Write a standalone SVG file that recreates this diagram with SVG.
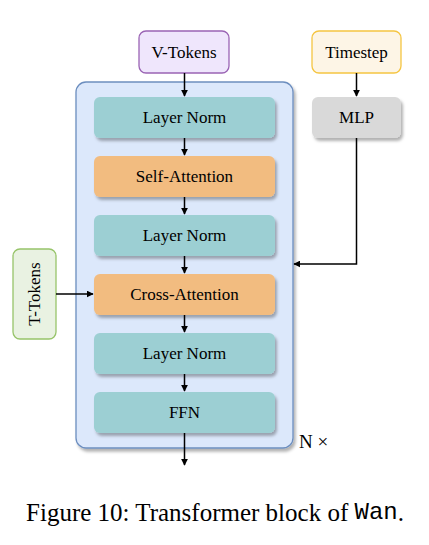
<svg xmlns="http://www.w3.org/2000/svg" width="429" height="545" viewBox="0 0 429 545">
<defs>
<style>
text{font-family:"Liberation Serif","Times New Roman",serif;fill:#000;}
.lbl{font-size:17px;text-anchor:middle;dominant-baseline:central;}
.teal{fill:#9ccfd3;}
.orange{fill:#f2bc80;}
.edge{stroke:#000;stroke-width:1.5;fill:none;}
</style>
<filter id="sh" x="-10%" y="-20%" width="130%" height="150%">
<feDropShadow dx="2" dy="3" stdDeviation="1.5" flood-color="#000" flood-opacity="0.3"/>
</filter>
<marker id="ah" viewBox="0 0 10 10" refX="9" refY="5" markerWidth="7" markerHeight="7" orient="auto" markerUnits="userSpaceOnUse">
<path d="M0,0 L10,5 L0,10 z" fill="#000"/>
</marker>
</defs>
<rect width="429" height="545" fill="#fff"/>
<g id="container">
<rect x="76" y="82" width="217" height="366" rx="10" fill="#dce8fb" stroke="#6c8ebf" stroke-width="1.3" filter="url(#sh)"/>
</g>
<g id="v-tokens">
<rect x="139" y="31" width="90" height="42" rx="7" fill="#efe6fc" stroke="#9a64b4" stroke-width="1.3"/>
<text class="lbl" x="184" y="52">V-Tokens</text>
</g>
<g id="timestep">
<rect x="312" y="31" width="89" height="42" rx="7" fill="#fdf5e6" stroke="#f5c542" stroke-width="1.3"/>
<text class="lbl" x="356.5" y="52">Timestep</text>
</g>
<g id="mlp">
<rect x="312" y="97" width="89" height="41" rx="6" fill="#d9d9d9" filter="url(#sh)"/>
<text class="lbl" x="356.5" y="117.5">MLP</text>
</g>
<g id="t-tokens">
<rect x="13" y="249" width="43" height="90" rx="7" fill="#e9f2e2" stroke="#97c46a" stroke-width="1.3"/>
<text class="lbl" x="34.5" y="294" transform="rotate(-90 34.5 294)">T-Tokens</text>
</g>
<g id="layernorm1">
<rect class="teal" x="94" y="97" width="181" height="41" rx="6" filter="url(#sh)"/>
<text class="lbl" x="184.5" y="117.5">Layer Norm</text>
</g>
<g id="self-attention">
<rect class="orange" x="94" y="156" width="181" height="41" rx="6" filter="url(#sh)"/>
<text class="lbl" x="184.5" y="176.5">Self-Attention</text>
</g>
<g id="layernorm2">
<rect class="teal" x="94" y="215" width="181" height="41" rx="6" filter="url(#sh)"/>
<text class="lbl" x="184.5" y="235.5">Layer Norm</text>
</g>
<g id="cross-attention">
<rect class="orange" x="94" y="274" width="181" height="41" rx="6" filter="url(#sh)"/>
<text class="lbl" x="184.5" y="294.5">Cross-Attention</text>
</g>
<g id="layernorm3">
<rect class="teal" x="94" y="333" width="181" height="41" rx="6" filter="url(#sh)"/>
<text class="lbl" x="184.5" y="353.5">Layer Norm</text>
</g>
<g id="ffn">
<rect class="teal" x="94" y="392" width="181" height="41" rx="6" filter="url(#sh)"/>
<text class="lbl" x="184.5" y="412.5">FFN</text>
</g>
<g id="connectors">
<line class="edge" x1="184.5" y1="73" x2="184.5" y2="96" marker-end="url(#ah)"/>
<line class="edge" x1="184.5" y1="138" x2="184.5" y2="155" marker-end="url(#ah)"/>
<line class="edge" x1="184.5" y1="197" x2="184.5" y2="214" marker-end="url(#ah)"/>
<line class="edge" x1="184.5" y1="256" x2="184.5" y2="273" marker-end="url(#ah)"/>
<line class="edge" x1="184.5" y1="315" x2="184.5" y2="332" marker-end="url(#ah)"/>
<line class="edge" x1="184.5" y1="374" x2="184.5" y2="391" marker-end="url(#ah)"/>
<line class="edge" x1="184.5" y1="433" x2="184.5" y2="465" marker-end="url(#ah)"/>
<line class="edge" x1="356.5" y1="73" x2="356.5" y2="96" marker-end="url(#ah)"/>
<polyline class="edge" points="356.5,138 356.5,264 294,264" marker-end="url(#ah)"/>
<line class="edge" x1="56" y1="294" x2="93" y2="294" marker-end="url(#ah)"/>
</g>
<text x="299" y="441" style="font-size:19px;dominant-baseline:central">N ×</text>
<text x="215" y="512" style="font-size:25px;text-anchor:middle;dominant-baseline:central">Figure 10: Transformer block of <tspan style="font-family:'Liberation Mono','Courier New',monospace;font-size:24px">Wan</tspan>.</text>
</svg>
